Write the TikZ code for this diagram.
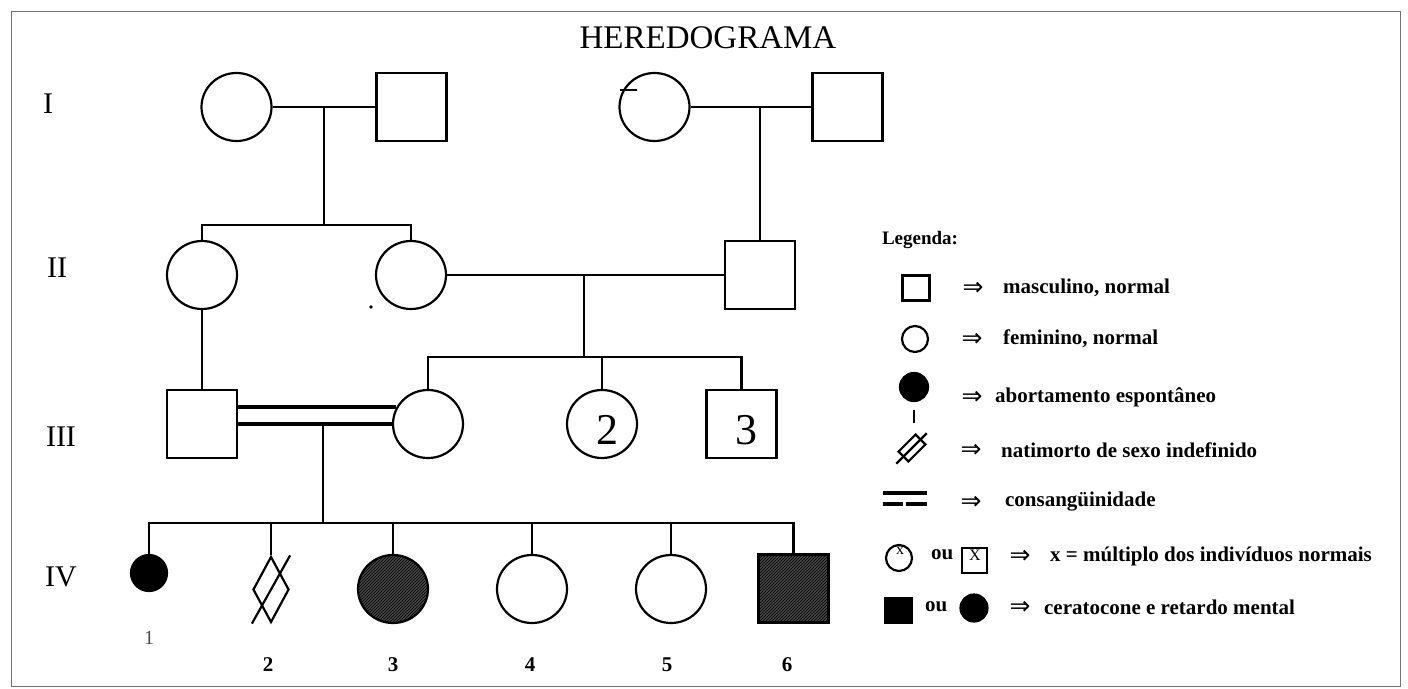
\documentclass[tikz,border=0pt]{standalone}
\usepackage{fontspec}
\setmainfont{Liberation Serif}
\newfontfamily\arrowfont{DejaVu Sans}
\usetikzlibrary{shapes.geometric, patterns, calc}
\tikzset{>=latex}
\def\linew{2.2pt}
\def\consw{4pt}
\tikzset{
  female/.style={draw, ellipse, inner sep=0pt, minimum width=70pt, minimum height=68pt},
  male/.style={draw, rectangle, inner sep=0pt, minimum width=70pt, minimum height=68pt},
  affected/.style={preaction={fill=black!72}, pattern=north east lines, pattern color=black},
  abort/.style={draw, circle, fill=black, inner sep=0pt, minimum size=36pt},
  stillbirth/.style={draw, diamond, inner sep=0pt, minimum width=36pt, minimum height=66pt},
  consang/.style={line width=\consw},
  title_text/.style={font=\fontsize{33}{38}\selectfont},
  gen_label/.style={font=\fontsize{30}{34}\selectfont},
  big_num/.style={font=\fontsize{44}{48}\selectfont},
  ind_num/.style={font=\bfseries\fontsize{21}{25}\selectfont},
  leg_head/.style={font=\bfseries\fontsize{19}{23}\selectfont},
  leg_text/.style={anchor=west, inner sep=0pt, font=\bfseries\fontsize{21}{25}\selectfont},
  leg_arrow/.style={inner sep=0pt, font=\arrowfont\fontsize{25}{29}\selectfont},
}

\begin{document}
\begin{tikzpicture}[x=1pt, y=-1pt, line width=\linew]

\useasboundingbox (0,0) rectangle (1408,688);
\draw[line width=1pt, black!55] (11,11) rectangle (1400,686);

\node[title_text] (title) at (708,38) {HEREDOGRAMA};

% Geracoes
\node[gen_label] (gen_I) at (48,104) {I};
\node[gen_label] (gen_II) at (57,268) {II};
\node[gen_label] (gen_III) at (61,437) {III};
\node[gen_label] (gen_IV) at (61,577) {IV};

% Geracao I
\node[female] (I_f1) at (236.5,107) {};
\node[male] (I_m1) at (411.5,107) {};
\node[female] (I_f2) at (654.5,107) {};
\node[male] (I_m2) at (847.5,107) {};
\coordinate (I_couple1) at (324,107);
\coordinate (I_couple2) at (760,107);

% Geracao II
\node[female] (II_f1) at (202,275) {};
\node[female] (II_f2) at (411,275) {};
\node[male] (II_m1) at (760,275) {};
\coordinate (sib_II) at (324,225);
\coordinate (II_couple) at (584,275);

% Geracao III
\node[male] (III_m1) at (202,424) {};
\node[female] (III_f1) at (428,424) {};
\node[female] (III_f2) at (602,424) {};
\node[male] (III_m2) at (741.5,424) {};
\node[big_num] (III_f2_num) at ([shift={(5,6)}]III_f2) {2};
\node[big_num] (III_m2_num) at ([shift={(5,6)}]III_m2) {3};
\coordinate (sib_III) at (584,357);
\coordinate (III_couple) at (323,424);

% Geracao IV
\node[abort] (IV_1) at (149,573) {};
\node[stillbirth] (IV_2) at (271,589.5) {};
\node[female, affected] (IV_3) at (393,589) {};
\node[female] (IV_4) at (532,589) {};
\node[female] (IV_5) at (671,589) {};
\node[male, affected] (IV_6) at (793.5,588.5) {};
\coordinate (sib_IV) at (323,523);

\node[ind_num, text=black!70, font=\fontsize{20}{24}\selectfont] (IV_1_num) at (149,638) {1};
\node[ind_num] (IV_2_num) at (268,665) {2};
\node[ind_num] (IV_3_num) at (393,665) {3};
\node[ind_num] (IV_4_num) at (530,665) {4};
\node[ind_num] (IV_5_num) at (667,665) {5};
\node[ind_num] (IV_6_num) at (787,665) {6};

% Linhas
\draw (I_f1) -- (I_m1);
\draw (I_f2) -- (I_m2);
\draw (I_couple1) -- (sib_II);
\draw (II_f1.north) |- (sib_II) -| (II_f2.north);
\draw (I_couple2) -- (II_m1.north);
\draw (II_f2) -- (II_m1);
\draw (II_couple) -- (sib_III);
\draw (III_f1.north) |- (sib_III) -| (III_m2.north);
\draw (III_f2.north) -- (III_f2.north |- sib_III);
\draw (II_f1) -- (III_m1);

\draw[consang] (III_m1.east |- III_f1.152) -- (III_f1.152);
\draw[consang] (III_m1.east) -- (III_f1.west);

\draw (III_couple) -- (sib_IV);
\draw (IV_1.north) |- (sib_IV) -| (IV_6.north);
\foreach \i in {2,...,5}{
    \draw (IV_\i.north) -- (IV_\i.north |- sib_IV);
}
\draw (IV_2.west |- IV_2.south) -- (IV_2.east |- IV_2.north);

% manchas do original
\draw (620,90) -- (637,90);
\fill (371,307) circle (1.8pt);

% Legenda
\node[leg_head] (leg_title) at (920,240) {Legenda:};

\node[male, minimum width=27pt, minimum height=25pt] (leg_male) at (916,288) {};
\node[leg_arrow] (leg_arr1) at (973,289) {⇒};
\node[leg_text] (leg_txt1) at (1002,288) {masculino, normal};

\node[female, minimum width=26pt, minimum height=26pt] (leg_female) at (915,339) {};
\node[leg_arrow] (leg_arr2) at (972,340) {⇒};
\node[leg_text] (leg_txt2) at (1002,339) {feminino, normal};

\node[abort, minimum size=28pt] (leg_abort) at (914,387) {};
\node[leg_arrow] (leg_arr3) at (972,398) {⇒};
\node[leg_text] (leg_txt3) at (994,397) {abortamento espontâneo};

\coordinate (leg_tick_a) at (914,410);
\coordinate (leg_tick_b) at (914,423);
\draw (leg_tick_a) -- (leg_tick_b);
\node[draw, rectangle, rotate=45, inner sep=0pt, minimum width=24pt, minimum height=14pt] (leg_still) at (912,448) {};
\draw ($(leg_still.west)!-0.35!(leg_still.east)$) -- ($(leg_still.east)!-0.3!(leg_still.west)$);
\node[leg_arrow] (leg_arr4) at (971,451) {⇒};
\node[leg_text] (leg_txt4) at (1000,450) {natimorto de sexo indefinido};

\coordinate (leg_cons_a) at (883,493);
\coordinate (leg_cons_b) at (927,493);
\coordinate (leg_cons_c) at (883,504);
\coordinate (leg_cons_d) at (903,504);
\coordinate (leg_cons_e) at (906,504);
\coordinate (leg_cons_f) at (927,504);
\draw[line width=3.4pt] (leg_cons_a) -- (leg_cons_b);
\draw[line width=3.4pt] (leg_cons_c) -- (leg_cons_d);
\draw[line width=3.4pt] (leg_cons_e) -- (leg_cons_f);
\node[leg_arrow] (leg_arr5) at (971,503) {⇒};
\node[leg_text] (leg_txt5) at (1004,502) {consangüinidade};

\node[female, minimum width=26pt, minimum height=26pt] (leg_mult_f) at (899,558) {};
\node[font=\fontsize{16}{18}\selectfont, inner sep=0pt] (leg_mult_fx) at (900,551) {x};
\node[leg_text] (leg_ou1) at (930,555) {ou};
\node[male, minimum width=25pt, minimum height=25pt] (leg_mult_m) at (974.5,560.5) {};
\node[font=\fontsize{16}{18}\selectfont, inner sep=0pt] (leg_mult_mx) at (975,555) {X};
\node[leg_arrow] (leg_arr6) at (1020,557) {⇒};
\node[leg_text] (leg_txt6) at (1049,556) {x = múltiplo dos indivíduos normais};

\node[male, fill=black, minimum width=27pt, minimum height=25pt] (leg_aff_m) at (898.5,610.5) {};
\node[leg_text] (leg_ou2) at (924,607) {ou};
\node[abort, minimum size=27pt] (leg_aff_f) at (974,608) {};
\node[leg_arrow] (leg_arr7) at (1020,608) {⇒};
\node[leg_text] (leg_txt7) at (1043,607) {ceratocone e retardo mental};

\end{tikzpicture}
\end{document}
